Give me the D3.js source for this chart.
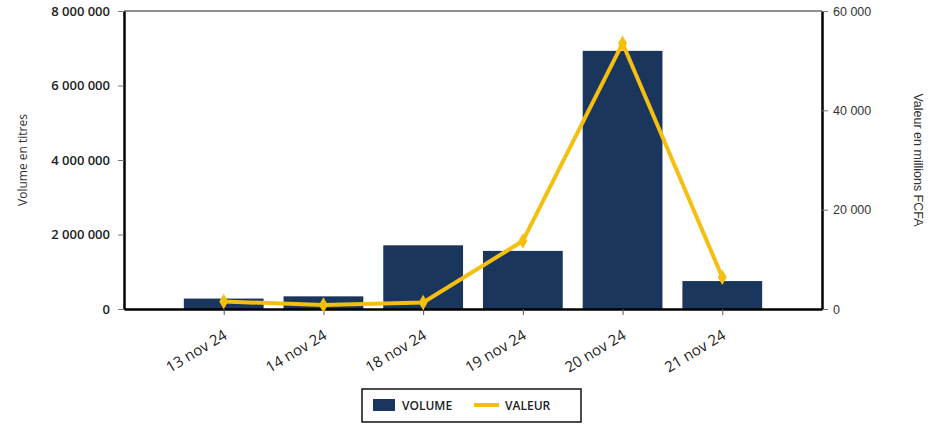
<!DOCTYPE html>
<html>
<head>
<meta charset="utf-8">
<script src="https://cdn.jsdelivr.net/npm/d3@7"></script>
<style>
  body { margin: 0; background: #fff; }
</style>
</head>
<body>
<svg id="chart" width="948" height="429"></svg>
<script>
const dates = ["13 nov 24", "14 nov 24", "18 nov 24", "19 nov 24", "20 nov 24", "21 nov 24"];
const volume = [280000, 340000, 1710000, 1560000, 6930000, 750000];
const valeur = [1500, 800, 1300, 13700, 53500, 6400];
const leftTicks = [0, 2000000, 4000000, 6000000, 8000000];
const rightTicks = [0, 20000, 40000, 60000];

const margin = { left: 124, right: 126, top: 11, bottom: 120 };
const width = 948 - margin.left - margin.right;
const height = 429 - margin.top - margin.bottom;
const barColor = "#1b365d";
const lineColor = "#f5bf0f";

const svg = d3.select("#chart");
const g = svg.append("g").attr("transform", `translate(${margin.left},${margin.top})`);

const x = d3.scalePoint().domain(dates).range([0, width]).padding(1);
const yL = d3.scaleLinear().domain([0, 8000000]).range([height, 0]);
const yR = d3.scaleLinear().domain([0, 60000]).range([height, 0]);
const fmt = (v) => d3.format(",")(v).replace(/,/g, " ");
const barW = x.step() * 0.8;

// bars
g.selectAll("rect.bar")
	.data(volume)
	.join("rect")
	.attr("class", "bar")
	.attr("x", (d, i) => x(dates[i]) - barW / 2)
	.attr("y", (d) => yL(d))
	.attr("width", barW)
	.attr("height", (d) => height - yL(d))
	.attr("fill", barColor);

// top frame
g.append("line").attr("x1", 0).attr("x2", width).attr("y1", 0).attr("y2", 0)
	.attr("stroke", "#222").attr("stroke-width", 1);

// left axis
const axL = g.append("g").call(d3.axisLeft(yL).tickValues(leftTicks).tickFormat(fmt).tickSize(6).tickSizeOuter(0));
axL.select(".domain").attr("stroke", "#000").attr("stroke-width", 2.5);
axL.selectAll(".tick line").attr("stroke", "#777");
axL.selectAll(".tick text").attr("font-family", "Open Sans").attr("font-size", 13).attr("font-weight", 600)
	.attr("fill", "#222").attr("x", -14);

// right axis
const axR = g.append("g").attr("transform", `translate(${width},0)`)
	.call(d3.axisRight(yR).tickValues(rightTicks).tickFormat(fmt).tickSize(6).tickSizeOuter(0));
axR.select(".domain").attr("stroke", "#000").attr("stroke-width", 2.5);
axR.selectAll(".tick line").attr("stroke", "#777");
axR.selectAll(".tick text").attr("font-family", "Liberation Sans").attr("font-size", 12.5)
	.attr("fill", "#333").attr("x", 11);

// bottom axis
const axB = g.append("g").attr("transform", `translate(0,${height})`)
	.call(d3.axisBottom(x).tickSize(6).tickSizeOuter(0));
axB.select(".domain").attr("stroke", "#000").attr("stroke-width", 2.5);
axB.selectAll(".tick line").attr("stroke", "#555");
axB.selectAll(".tick text")
	.attr("font-family", "Open Sans").attr("font-size", 15).attr("fill", "#222")
	.attr("text-anchor", "end").attr("dy", 0).attr("x", 0).attr("y", 0)
	.attr("transform", "translate(4,29) rotate(-31)");

// axis titles
svg.append("text")
	.attr("transform", `translate(27,${margin.top + height / 2}) rotate(-90)`)
	.attr("text-anchor", "middle")
	.attr("font-family", "Open Sans").attr("font-size", 12).attr("fill", "#333")
	.text("Volume en titres");

svg.append("text")
	.attr("transform", `translate(914,${margin.top + height / 2}) rotate(90)`)
	.attr("text-anchor", "middle")
	.attr("font-family", "Liberation Sans").attr("font-size", 12.5).attr("fill", "#333")
	.text("Valeur en millions FCFA");

// line
const line = d3.line().x((d, i) => x(dates[i])).y((d) => yR(d));
g.append("path").datum(valeur)
	.attr("fill", "none").attr("stroke", lineColor).attr("stroke-width", 4)
	.attr("stroke-linejoin", "round")
	.attr("d", line);

g.selectAll("path.mark")
	.data(valeur)
	.join("path")
	.attr("class", "mark")
	.attr("transform", (d, i) => `translate(${x(dates[i])},${yR(d)})`)
	.attr("d", d3.symbol(d3.symbolDiamond, 70))
	.attr("fill", lineColor);

// legend
const lg = svg.append("g").attr("transform", "translate(362,389)");
lg.append("rect").attr("width", 219).attr("height", 33)
	.attr("fill", "#fff").attr("stroke", "#111").attr("stroke-width", 1.5);
lg.append("rect").attr("x", 11).attr("y", 10).attr("width", 22).attr("height", 12).attr("fill", barColor);
lg.append("text").attr("x", 40).attr("y", 21)
	.attr("font-family", "Open Sans").attr("font-size", 12).attr("font-weight", 600).attr("fill", "#222")
	.text("VOLUME");
lg.append("line").attr("x1", 112).attr("x2", 137).attr("y1", 16).attr("y2", 16)
	.attr("stroke", lineColor).attr("stroke-width", 4);
lg.append("text").attr("x", 143).attr("y", 21)
	.attr("font-family", "Open Sans").attr("font-size", 12).attr("font-weight", 600).attr("fill", "#222")
	.text("VALEUR");
</script>
</body>
</html>
